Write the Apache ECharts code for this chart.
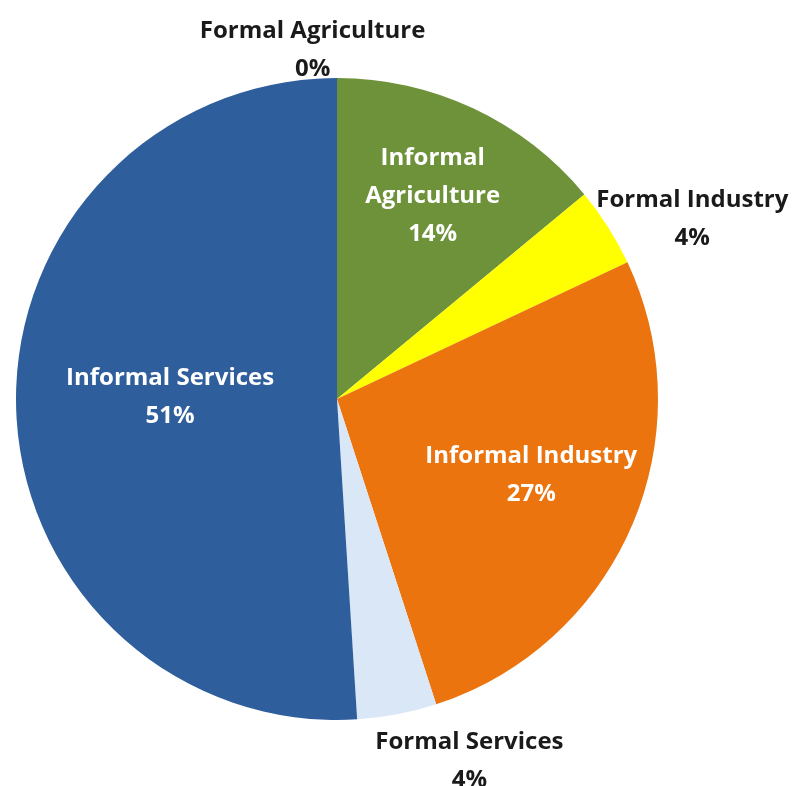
<!DOCTYPE html>
<html>
<head>
<meta charset="utf-8">
<title>Employment by sector</title>
<script src="https://cdn.jsdelivr.net/npm/echarts@6/dist/echarts.min.js"></script>
<style>
  html, body { margin: 0; padding: 0; background: #ffffff; }
  #chart { width: 792px; height: 786px; }
</style>
</head>
<body>
<div id="chart"></div>
<script>
// Share of employment by sector (percent), clockwise from the top
const categories = [
  'Formal Agriculture',
  'Informal Agriculture',
  'Formal Industry',
  'Informal Industry',
  'Formal Services',
  'Informal Services'
];
const shares = [0, 14, 4, 27, 4, 51];

// Styling
const sliceColors = ['#8fb04a', '#6e923a', '#ffff00', '#eb740f', '#d9e7f6', '#2f5e9c'];
const labelInside = [false, true, false, true, false, true];
// label placement: [angle shift from the slice middle (deg), distance as a fraction of the radius]
const labelPlacement = [[-4, 1.09], [0, 0.70], [5.6, 1.24], [-2, 0.65], [-9.3, 1.20], [2.5, 0.52]];

const CX = 337, CY = 399, R = 321;
const total = shares.reduce((a, b) => a + b, 0);

// middle angle of each slice, measured clockwise from 12 o'clock
const midAngles = [];
let acc = 0;
shares.forEach(v => {
  midAngles.push((acc + v / 2) / total * 360);
  acc += v;
});

const chart = echarts.init(document.getElementById('chart'), null, { renderer: 'canvas' });

chart.setOption({
  backgroundColor: '#ffffff',
  animation: false,
  series: [{
    type: 'pie',
    center: [CX, CY],
    radius: R,
    startAngle: 90,
    clockwise: true,
    avoidLabelOverlap: false,
    label: {
      show: true,
      formatter: '{b}\n{c}%',
      fontFamily: 'Open Sans',
      fontWeight: 'bold',
      fontSize: 24,
      lineHeight: 38
    },
    labelLine: { show: false },
    itemStyle: { borderWidth: 0 },
    emphasis: { disabled: true },
    labelLayout: function (params) {
      const i = params.dataIndex;
      const p = labelPlacement[i];
      const a = (midAngles[i] + p[0]) * Math.PI / 180;
      const d = p[1] * R;
      return {
        x: CX + d * Math.sin(a),
        y: CY - d * Math.cos(a),
        align: 'center',
        verticalAlign: 'middle'
      };
    },
    data: categories.map((name, i) => ({
      name: name,
      value: shares[i],
      itemStyle: { color: sliceColors[i] },
      label: {
        position: labelInside[i] ? 'inside' : 'outside',
        color: labelInside[i] ? '#ffffff' : '#1a1a1a',
        formatter: name === 'Informal Agriculture' ? 'Informal\nAgriculture\n{c}%' : '{b}\n{c}%'
      }
    }))
  }]
});
</script>
</body>
</html>
